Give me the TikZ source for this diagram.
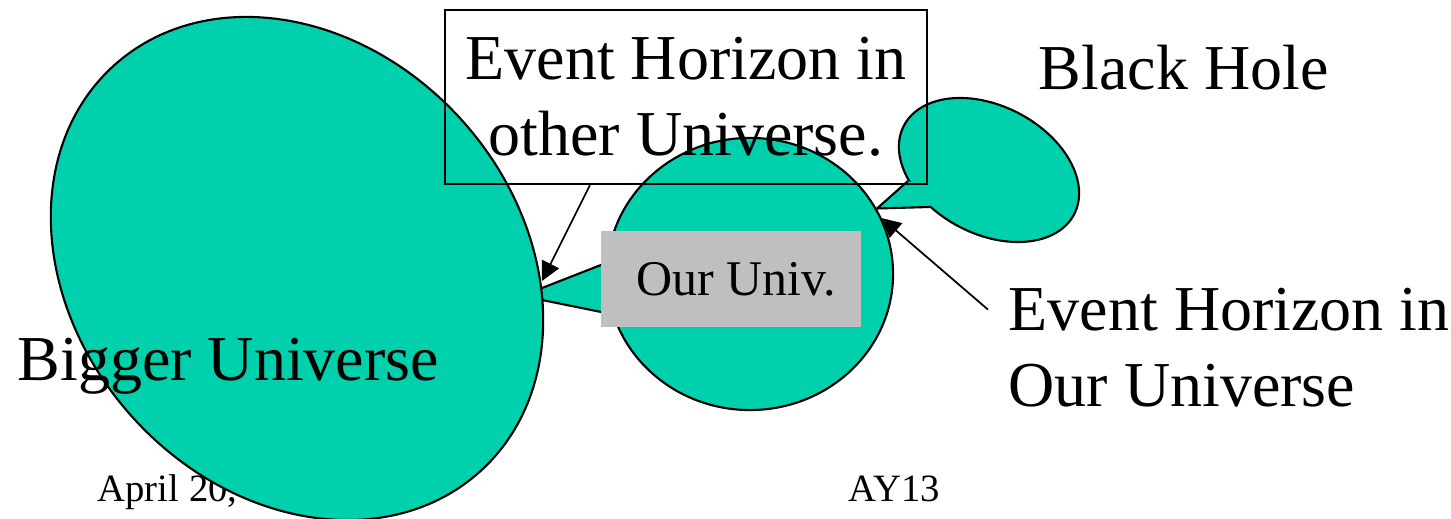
\documentclass[tikz,border=0pt]{standalone}
\usepackage{fontspec}
\setmainfont{Liberation Serif}
\usetikzlibrary{arrows.meta,shapes.geometric}
\definecolor{univteal}{RGB}{0,209,172}
\definecolor{lblgray}{RGB}{190,191,190}
\tikzset{
	univ/.style={ellipse,draw=black,line width=0.6pt,fill=univteal,inner sep=0pt},
	rim/.style={line width=0.6pt},
	ptr/.style={-{Triangle[length=0.19cm,width=0.19cm]},line width=0.5pt},
	bigtxt/.style={font=\fontsize{18.2}{21.7}\selectfont,inner sep=0pt},
	smalltxt/.style={font=\fontsize{11}{13}\selectfont,inner sep=0pt}
}
\begin{document}
\begin{tikzpicture}[x=0.01cm,y=-0.01cm]
		\useasboundingbox (0,0) rectangle (1451,519);
		\node[smalltxt,anchor=base west] (date) at (97,502) {April 20,};
		\node[smalltxt,anchor=base west] (course) at (848,502) {AY13};
		\filldraw[fill=univteal,rim] (530,292.7) -- (615,259.5) -- (615,314.8) -- (530,297.6) -- cycle;
		\node[univ,minimum width=5.464cm,minimum height=4.432cm,rotate=-48] (bigU) at (297,268.5) {};
		\node[univ,minimum width=2.86cm,minimum height=2.72cm] (ourU) at (750,274) {};
		\node[univ,minimum width=1.918cm,minimum height=1.28cm,rotate=-27.5] (bhole) at (989,170) {};
		\fill[univteal] (877,208) -- (908,181) -- (935,190) -- (930,207) -- cycle;
		\draw[rim] (908,181) -- (877,208.5) -- (930,207);
		\node[fill=lblgray,minimum width=2.6cm,minimum height=0.96cm,inner sep=0pt,
		font=\fontsize{14.2}{16}\selectfont] (ourlbl) at (731,279) {\hspace*{0.1cm}Our Univ.};
		\node[draw,rim,bigtxt,align=center,minimum width=4.82cm,minimum height=1.74cm]
		(ehother) at (686,97) {Event Horizon in\\other Universe.};
		\node[bigtxt,anchor=base west] (bhlbl) at (1038,90) {Black Hole};
		\node[bigtxt,anchor=base west] (biglbl) at (17,381) {Bigger Universe};
		\node[bigtxt,anchor=base west,align=left] (ehours) at (1008,407) {Event Horizon in\\Our Universe};
		\coordinate (ehtip) at (542,281);
		\draw[ptr] ([xshift=-0.96cm]ehother.south) -- (ehtip);
		\draw[ptr] ([shift={(-0.2cm,-0.22cm)}]ehours.north west) -- (ourU.23);
	\end{tikzpicture}
\end{document}
